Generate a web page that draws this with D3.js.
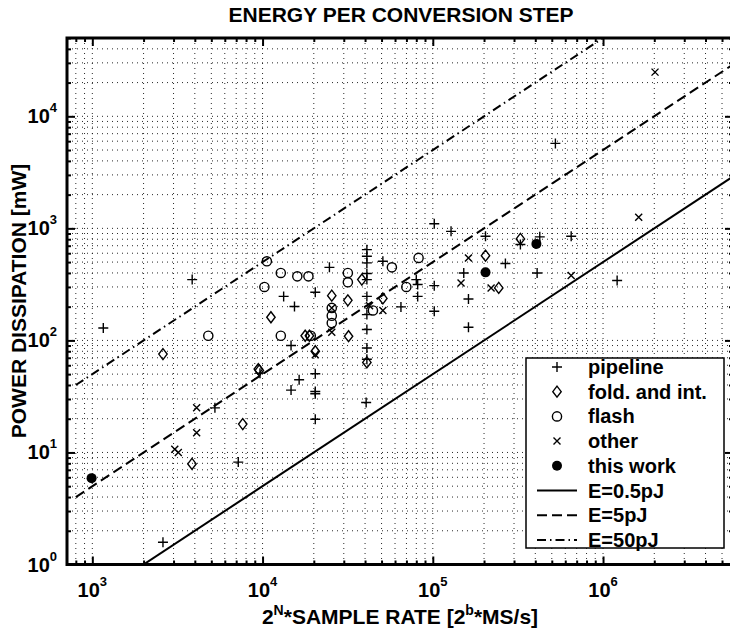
<!DOCTYPE html>
<html>
<head>
<meta charset="utf-8">
<script src="https://cdn.jsdelivr.net/npm/d3@7"></script>
<style>
body{margin:0;background:#fff;}
text{font-family:"Liberation Sans",Arial,sans-serif;font-weight:bold;fill:#000;}
</style>
</head>
<body>
<script>
// ---- data (2^N*fs in 2^b*MS/s, power in mW) ----
var pipelineRate  = [1160,2600,3860,5250,7200,9660,13300,14700,14700,15400,16400,20400,20400,20400,20400,20400,24700,40600,
                     41000,41000,41000,41000,41000,41000,41000,41000,41000,41000,50900,65000,80000,81500,81500,
                     102000,102000,102000,128000,152000,162000,162000,204000,267000,327000,410000,425000,525000,650000,1210000];
var pipelinePower = [129,1.58,349,25,8.2,51,247,90,36,201,44.5,269,50.4,35,33.4,19.8,449,27.9,
                     646,563,492,395,349,247,170,125,85.5,68,508,199,349,315,247,
                     1100,308,182,940,400,234,131,850,485,717,400,840,5730,850,342];
var foldRate  = [2600,3850,7650,9440,9570,11200,17800,18850,20400,25500,31700,32000,38300,41000,50900,204000,244000,327000];
var foldPower = [75.5,7.9,17.9,55.5,54,161,110,110,80,251,228,109,349,63.6,237,571,294,805];
var flashRate  = [4800,10250,10600,12800,12800,16000,18600,19200,25500,25500,25500,31700,31700,44500,57500,69900,82500];
var flashPower = [110,300,508,400,110,373,373,110,195,166,143,400,330,185,449,300,545];
var otherRate  = [3050,3200,4100,4100,20400,25500,25500,42500,50900,146500,162000,220000,650000,1620000,2020000];
var otherPower = [10.7,10,25,15,74.5,195,118,204,185,326,545,294,379,1257,24800];
var thisRate  = [990,204000,406000];
var thisPower = [5.9,405,727];

var energies = [0.5, 5, 50];                 // pJ per conversion step
var energyLabels = ["E=0.5pJ","E=5pJ","E=50pJ"];
var lineRate = [800, 1e7];                   // extent of the energy lines
var seriesNames = ["pipeline","fold. and int.","flash","other","this work"];
var xMajor = [1e3,1e4,1e5,1e6];
var yMajor = [1e0,1e1,1e2,1e3,1e4];

var width = 730, height = 632;
var pLeft = 67, pRight = 733, pTop = 38, pBottom = 564.5;

var svg = d3.select('body').append('svg')
            .attr('width', width)
            .attr('height', height);

var x = d3.scaleLog().domain([710, 5.8e6]).range([pLeft, pRight]);
var y = d3.scaleLog().domain([1, 5e4]).range([pBottom, pTop]);

// minor tick values
var xMinor = [], yMinor = [];
[2,3,4,5,6].forEach(function(k){
  for (var m = 2; m <= 9; m++){
    var v = m*Math.pow(10,k);
    if (v >= 710 && v <= 5.8e6) xMinor.push(v);
  }
});
for (var k = 0; k <= 4; k++){
  for (var m = 2; m <= 9; m++){
    var v = m*Math.pow(10,k);
    if (v <= 5e4) yMinor.push(v);
  }
}
var xAll = xMajor.concat(xMinor), yAll = yMajor.concat(yMinor);

svg.append('clipPath').attr('id','plot')
   .append('rect').attr('x',pLeft).attr('y',pTop).attr('width',pRight-pLeft).attr('height',pBottom-pTop);

// grid
var grid = svg.append('g').attr('stroke','#111').attr('stroke-width',0.9).attr('stroke-dasharray','1,4');
grid.selectAll('.gx').data(xAll).enter().append('line')
    .attr('x1',function(d){return x(d);}).attr('x2',function(d){return x(d);})
    .attr('y1',pTop).attr('y2',pBottom);
grid.selectAll('.gy').data(yAll).enter().append('line')
    .attr('y1',function(d){return y(d);}).attr('y2',function(d){return y(d);})
    .attr('x1',pLeft).attr('x2',pRight);

// ticks on all four sides, pointing inward
function ticks(axisFn, scale, vals, len, tx, ty){
  svg.append('g').attr('transform','translate('+tx+','+ty+')')
     .call(axisFn(scale).tickValues(vals).tickSize(-len).tickFormat(''))
     .call(function(g){ g.select('.domain').remove(); g.selectAll('line').attr('stroke','#000').attr('stroke-width',2); });
}
ticks(d3.axisBottom, x, xMajor, 8, 0, pBottom);
ticks(d3.axisBottom, x, xMinor, 4, 0, pBottom);
ticks(d3.axisTop, x, xMajor, 8, 0, pTop);
ticks(d3.axisTop, x, xMinor, 4, 0, pTop);
ticks(d3.axisLeft, y, yMajor, 8, pLeft, 0);
ticks(d3.axisLeft, y, yMinor, 4, pLeft, 0);
ticks(d3.axisRight, y, yMajor, 8, pRight, 0);
ticks(d3.axisRight, y, yMinor, 4, pRight, 0);

// energy lines
var lineStyles = [null, '10,5', '9,4,1.5,4'];
var lineGen = d3.line().x(function(d){return x(d[0]);}).y(function(d){return y(d[1]);});
var lines = svg.append('g').attr('clip-path','url(#plot)');
energies.forEach(function(e,i){
  var pts = lineRate.map(function(r){ return [r, e*1e-3*r]; });
  lines.append('path').attr('d',lineGen(pts)).attr('fill','none')
       .attr('stroke','#000').attr('stroke-width',2)
       .attr('stroke-dasharray',lineStyles[i]);
});

// markers
function drawMarker(g, type){
  if (type === 0) g.append('path').attr('d','M-5,0H5M0,-5V5').attr('stroke','#000').attr('stroke-width',1.4).attr('fill','none');
  if (type === 1) g.append('path').attr('d','M0,-5.5L4.2,0L0,5.5L-4.2,0Z').attr('stroke','#000').attr('stroke-width',1.4).attr('fill','none');
  if (type === 2) g.append('circle').attr('r',4.6).attr('stroke','#000').attr('stroke-width',1.4).attr('fill','none');
  if (type === 3) g.append('path').attr('d','M-3.5,-3.5L3.5,3.5M-3.5,3.5L3.5,-3.5').attr('stroke','#000').attr('stroke-width',1.4).attr('fill','none');
  if (type === 4) g.append('circle').attr('r',5).attr('fill','#000');
}
var series = [[pipelineRate,pipelinePower],[foldRate,foldPower],[flashRate,flashPower],[otherRate,otherPower],[thisRate,thisPower]];
var marks = svg.append('g').attr('clip-path','url(#plot)');
series.forEach(function(s,t){
  s[0].forEach(function(r,i){
    var g = marks.append('g').attr('transform','translate('+x(r)+','+y(s[1][i])+')');
    drawMarker(g,t);
  });
});

// frame
svg.append('rect').attr('x',pLeft).attr('y',pTop).attr('width',pRight-pLeft).attr('height',pBottom-pTop)
   .attr('fill','none').attr('stroke','#000').attr('stroke-width',3);

// tick labels
svg.selectAll('.xl').data(xMajor).enter().append('text')
   .attr('x',function(d){return x(d);}).attr('y',597)
   .attr('text-anchor','middle').style('font-size','20px')
   .each(function(d){
     var t = d3.select(this);
     t.append('tspan').text('10');
     t.append('tspan').attr('dy',-11).style('font-size','13px').text(Math.round(Math.log10(d)));
   });
svg.selectAll('.yl').data(yMajor).enter().append('text')
   .attr('x',57).attr('y',function(d){return y(d)+7;})
   .attr('text-anchor','end').style('font-size','20px')
   .each(function(d){
     var t = d3.select(this);
     t.append('tspan').text('10');
     t.append('tspan').attr('dy',-11).style('font-size','13px').text(Math.round(Math.log10(d)));
   });

// title and axis labels
svg.append('text').attr('x',401).attr('y',22).attr('text-anchor','middle')
   .style('font-size','21px').text('ENERGY PER CONVERSION STEP');

var xl = svg.append('text').attr('x',400).attr('y',624).attr('text-anchor','middle').style('font-size','21px');
xl.append('tspan').text('2');
xl.append('tspan').attr('dy',-9).style('font-size','14px').text('N');
xl.append('tspan').attr('dy',9).text('*SAMPLE RATE [2');
xl.append('tspan').attr('dy',-9).style('font-size','14px').text('b');
xl.append('tspan').attr('dy',9).text('*MS/s]');

svg.append('text').attr('transform','translate(26,301) rotate(-90)').attr('text-anchor','middle')
   .style('font-size','21px').text('POWER DISSIPATION [mW]');

// legend
var legend = svg.append('g');
legend.append('rect').attr('x',526).attr('y',358).attr('width',198).attr('height',190)
      .attr('fill','#fff').attr('stroke','#000').attr('stroke-width',1.5);
var rowY = function(i){ return 367 + i*24.7; };
seriesNames.forEach(function(n,i){
  var g = legend.append('g').attr('transform','translate(557,'+rowY(i)+')');
  drawMarker(g,i);
  legend.append('text').attr('x',588).attr('y',rowY(i)+7).style('font-size','20px').text(n);
});
energyLabels.forEach(function(n,j){
  var i = j + seriesNames.length;
  legend.append('line').attr('x1',537).attr('x2',577).attr('y1',rowY(i)).attr('y2',rowY(i))
        .attr('stroke','#000').attr('stroke-width',2).attr('stroke-dasharray',lineStyles[j]);
  legend.append('text').attr('x',588).attr('y',rowY(i)+7).style('font-size','20px').text(n);
});
</script>
</body>
</html>
